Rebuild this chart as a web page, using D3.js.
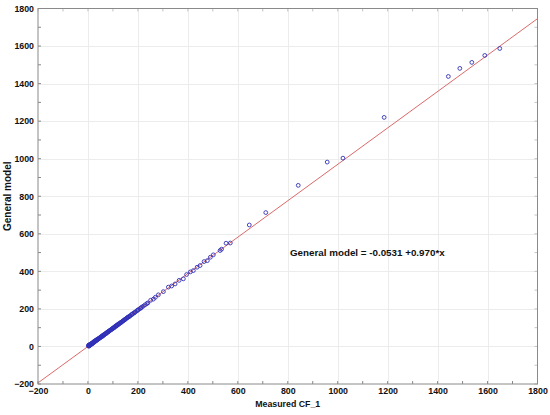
<!DOCTYPE html>
<html><head><meta charset="utf-8">
<script src="https://cdn.jsdelivr.net/npm/d3@7"></script>
<style>body{margin:0;background:#fff}svg{display:block;font-family:"Liberation Sans",Arial,sans-serif;font-weight:bold}</style>
</head><body>
<script>
// Data
const measured = [2,3,3,4,5,5,6,7,8,9,10,11,12,13,14,15,16,17,18,19,20,22,23,24,25,27,28,29,30,32,33,34,35,37,38,39,41,43,44,45,47,49,50,51,53,55,57,58,60,62,64,65,67,70,72,74,75,77,80,82,83,85,88,90,91,94,96,97,100,103,105,106,110,112,113,116,118,120,123,125,127,131,133,135,139,141,143,147,149,151,155,158,160,164,167,169,174,177,179,184,187,190,196,199,202,208,212,215,222,229,236,240,251,262,270,282,302,322,335,349,365,382,395,410,422,437,449,465,478,490,502,529,535,553,570,646,712,842,958,1021,1186,1443,1489,1537,1589,1649];
const model    = [4,1,7,5,3,8,5,9,6,11,9,13,10,14,12,16,16,14,19,17,21,20,25,22,26,25,29,27,31,30,34,32,36,35,38,37,40,41,43,43,46,47,48,49,52,52,57,54,59,58,63,62,65,67,70,70,74,73,78,79,80,82,86,87,88,90,93,94,98,98,103,101,108,107,111,111,116,115,120,120,124,126,129,130,135,136,139,142,145,146,151,153,156,158,162,163,169,171,174,178,181,184,190,193,196,201,205,209,215,222,228,232,246,252,262,275,292,316,322,333,352,360,383,397,404,422,431,452,457,475,488,511,518,550,551,647,713,858,982,1003,1220,1438,1481,1513,1550,1587];
const fitIntercept = -0.0531, fitSlope = 0.970;
const xTicks = [-200,0,200,400,600,800,1000,1200,1400,1600,1800];
const yTicks = [-200,0,200,400,600,800,1000,1200,1400,1600,1800];
const minorTicks = [-100,100,300,500,700,900,1100,1300,1500,1700];
const xTitle = "Measured CF_1", yTitle = "General model";
const annotation = "General model = -0.0531 +0.970*x";

const W = 550, H = 415;
const m = {l:38, r:12.5, t:8.5, b:31};
const svg = d3.select("body").append("svg").attr("width", W).attr("height", H);
const x = d3.scaleLinear().domain([-200,1800]).range([m.l, W - m.r]);
const y = d3.scaleLinear().domain([-200,1800]).range([H - m.b, m.t]);

// gridlines
const g = svg.append("g");
g.selectAll(".gx").data(xTicks.slice(1,-1)).join("line")
  .attr("x1", d => Math.round(x(d))+0.5).attr("x2", d => Math.round(x(d))+0.5)
  .attr("y1", y(-200)).attr("y2", y(1800)).attr("stroke", "#ececec").attr("stroke-width", 1);
g.selectAll(".gy").data(yTicks.slice(1,-1)).join("line")
  .attr("y1", d => Math.round(y(d))+0.5).attr("y2", d => Math.round(y(d))+0.5)
  .attr("x1", x(-200)).attr("x2", x(1800)).attr("stroke", "#ececec").attr("stroke-width", 1);

// fit line
svg.append("line")
  .attr("x1", x(-200)).attr("y1", y(fitIntercept + fitSlope * -200))
  .attr("x2", x(1800)).attr("y2", y(fitIntercept + fitSlope * 1800))
  .attr("stroke", "#dc6a6a").attr("stroke-width", 1);

// points
svg.append("g").selectAll("circle").data(measured.map((d,i)=>[d, model[i]])).join("circle")
  .attr("cx", d => x(d[0])).attr("cy", d => y(d[1])).attr("r", 1.9)
  .attr("fill", "none").attr("stroke", "#3030b8").attr("stroke-width", 0.9);

// axes
const xAxis = d3.axisBottom(x).tickValues(xTicks).tickSize(0).tickPadding(4).tickFormat(d3.format("d"));
const yAxis = d3.axisLeft(y).tickValues(yTicks).tickSize(0).tickPadding(4).tickFormat(d3.format("d"));
const ax = svg.append("g").attr("transform", `translate(0,${y(-200)})`).call(xAxis);
const ay = svg.append("g").attr("transform", `translate(${x(-200)},0)`).call(yAxis);
[ax, ay].forEach(a => {
  a.select(".domain").remove();
  a.selectAll("text").attr("font-size", 8.8).attr("font-weight", "bold").attr("fill", "#111")
    .attr("font-family", '"Liberation Sans",Arial,sans-serif');
});
// inward ticks
const allT = xTicks.concat(minorTicks);
svg.append("g").selectAll("line").data(allT).join("line")
  .attr("x1", d => x(d)).attr("x2", d => x(d)).attr("y1", y(-200)).attr("y2", y(-200)-3)
  .attr("stroke", "#888");
svg.append("g").selectAll("line").data(allT).join("line")
  .attr("y1", d => y(d)).attr("y2", d => y(d)).attr("x1", x(-200)).attr("x2", x(-200)+3)
  .attr("stroke", "#888");
svg.append("g").selectAll("line").data(allT).join("line")
  .attr("x1", d => x(d)).attr("x2", d => x(d)).attr("y1", y(1800)).attr("y2", y(1800)+3)
  .attr("stroke", "#c4c4c4");
svg.append("g").selectAll("line").data(allT).join("line")
  .attr("y1", d => y(d)).attr("y2", d => y(d)).attr("x1", x(1800)).attr("x2", x(1800)-3)
  .attr("stroke", "#c4c4c4");

// frame
svg.append("rect").attr("x", x(-200)).attr("y", y(1800))
  .attr("width", x(1800)-x(-200)).attr("height", y(-200)-y(1800))
  .attr("fill", "none").attr("stroke", "#8a8a8a").attr("stroke-width", 1);

// titles
svg.append("text").attr("x", (x(-200)+x(1800))/2).attr("y", 407).attr("text-anchor", "middle")
  .attr("font-size", 8.8).attr("fill", "#111").text(xTitle);
svg.append("text").attr("transform", `translate(11,${(y(-200)+y(1800))/2}) rotate(-90)`)
  .attr("text-anchor", "middle").attr("font-size", 10).attr("fill", "#111").text(yTitle);
svg.append("text").attr("x", 290).attr("y", 256).attr("font-size", 9.8).attr("fill", "#111").text(annotation);
</script>
</body></html>
